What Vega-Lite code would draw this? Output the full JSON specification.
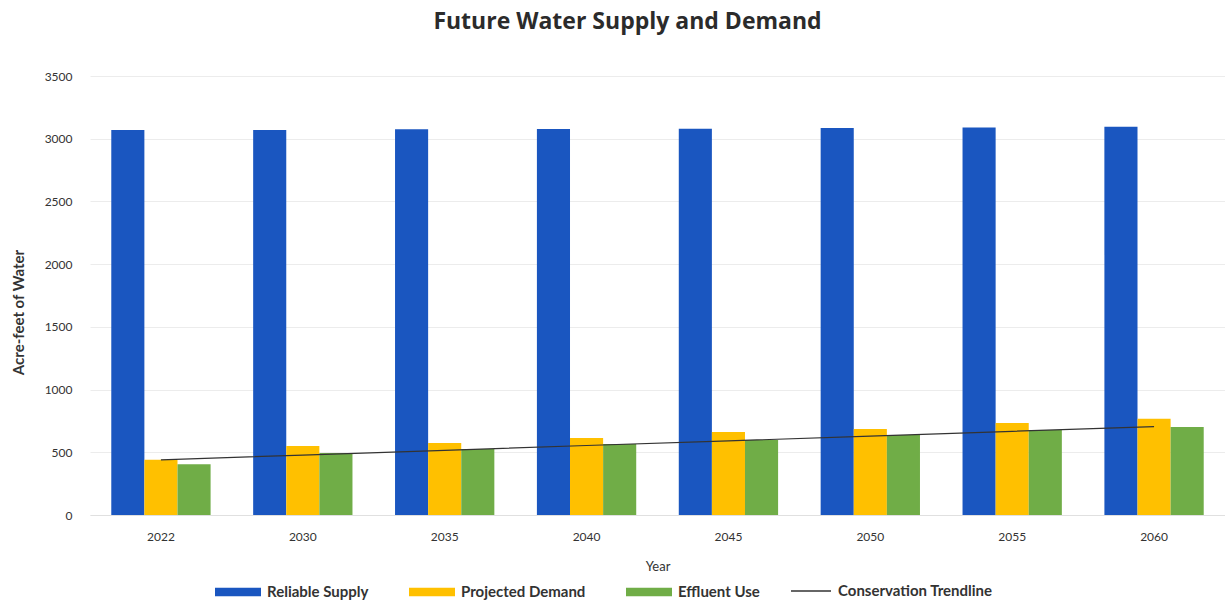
{
  "$schema": "https://vega.github.io/schema/vega-lite/v6.json",
  "width": 1135,
  "height": 439,
  "autosize": "none",
  "padding": {"left": 90, "top": 76, "right": 0, "bottom": 92},
  "background": "white",
  "title": {"text": "Future Water Supply and Demand", "fontSize": 23, "fontWeight": "bold", "font": "Open Sans", "color": "#2b2b2b", "offset": 36, "dx": -30},
  "config": {"view": {"stroke": null}, "font": "Lato"},
  "datasets": {
    "bars": [
      {"year": "2022", "series": "Reliable Supply", "value": 3070},
      {"year": "2022", "series": "Projected Demand", "value": 440},
      {"year": "2022", "series": "Effluent Use", "value": 405},
      {"year": "2030", "series": "Reliable Supply", "value": 3070},
      {"year": "2030", "series": "Projected Demand", "value": 550},
      {"year": "2030", "series": "Effluent Use", "value": 495},
      {"year": "2035", "series": "Reliable Supply", "value": 3075},
      {"year": "2035", "series": "Projected Demand", "value": 575},
      {"year": "2035", "series": "Effluent Use", "value": 526},
      {"year": "2040", "series": "Reliable Supply", "value": 3078},
      {"year": "2040", "series": "Projected Demand", "value": 614},
      {"year": "2040", "series": "Effluent Use", "value": 566},
      {"year": "2045", "series": "Reliable Supply", "value": 3080},
      {"year": "2045", "series": "Projected Demand", "value": 662},
      {"year": "2045", "series": "Effluent Use", "value": 598},
      {"year": "2050", "series": "Reliable Supply", "value": 3085},
      {"year": "2050", "series": "Projected Demand", "value": 686},
      {"year": "2050", "series": "Effluent Use", "value": 638},
      {"year": "2055", "series": "Reliable Supply", "value": 3090},
      {"year": "2055", "series": "Projected Demand", "value": 734},
      {"year": "2055", "series": "Effluent Use", "value": 678},
      {"year": "2060", "series": "Reliable Supply", "value": 3095},
      {"year": "2060", "series": "Projected Demand", "value": 768},
      {"year": "2060", "series": "Effluent Use", "value": 702}
    ],
    "trend": [
      {"year": "2022", "series": "Conservation Trendline", "value": 440},
      {"year": "2030", "series": "Conservation Trendline", "value": 478},
      {"year": "2035", "series": "Conservation Trendline", "value": 516},
      {"year": "2040", "series": "Conservation Trendline", "value": 554},
      {"year": "2045", "series": "Conservation Trendline", "value": 591},
      {"year": "2050", "series": "Conservation Trendline", "value": 629},
      {"year": "2055", "series": "Conservation Trendline", "value": 667},
      {"year": "2060", "series": "Conservation Trendline", "value": 705}
    ]
  },
  "layer": [
    {
      "data": {"name": "bars"},
      "mark": {"type": "bar"},
      "encoding": {
        "x": {
          "field": "year", "type": "nominal", "sort": null,
          "scale": {"paddingInner": 0.3, "paddingOuter": 0.15},
          "axis": {"title": "Year", "labelAngle": 0, "labelFontSize": 12, "labelColor": "#333", "labelPadding": 16, "ticks": false, "domain": true, "domainColor": "#e0e0e0", "titleFontSize": 13, "titleFontWeight": "normal", "titleColor": "#333", "titlePadding": 18}
        },
        "xOffset": {"field": "series", "sort": ["Reliable Supply", "Projected Demand", "Effluent Use"], "scale": {"paddingInner": 0}},
        "y": {
          "field": "value", "type": "quantitative",
          "scale": {"domain": [0, 3500]},
          "axis": {"title": "Acre-feet of Water", "format": "d", "values": [0, 500, 1000, 1500, 2000, 2500, 3000, 3500], "labelFontSize": 12, "labelColor": "#333", "labelPadding": 18, "ticks": false, "domain": false, "grid": true, "gridColor": "#ececec", "titleFontSize": 15, "titleFontWeight": "bold", "titleColor": "#333", "titlePadding": 18, "titleY": 236}
        },
        "color": {
          "field": "series", "type": "nominal",
          "scale": {"domain": ["Reliable Supply", "Projected Demand", "Effluent Use"], "range": ["#1a56c0", "#ffc000", "#70ad47"]},
          "legend": {
            "title": null, "orient": "none", "direction": "horizontal", "legendX": 125, "legendY": 493,
            "labelFontSize": 15, "labelFontWeight": "bold", "labelColor": "#333", "columnPadding": 40, "symbolSize": 2116, "labelOffset": 6,
            "symbolType": "M-1,-0.18H1V0.18H-1Z", "symbolStrokeWidth": 0
          }
        }
      }
    },
    {
      "data": {"name": "trend"},
      "mark": {"type": "line", "strokeWidth": 1.2},
      "encoding": {
        "x": {"field": "year", "type": "nominal", "sort": null},
        "y": {"field": "value", "type": "quantitative"},
        "stroke": {
          "field": "series", "type": "nominal",
          "scale": {"domain": ["Conservation Trendline"], "range": ["#333333"]},
          "legend": {
            "title": null, "orient": "none", "direction": "horizontal", "legendX": 700, "legendY": 494,
            "labelFontSize": 15, "labelFontWeight": "bold", "labelColor": "#333", "symbolSize": 1600, "labelOffset": 6,
            "symbolType": "stroke", "symbolStrokeWidth": 1.5, "symbolStrokeColor": "#333333"
          }
        }
      }
    }
  ]
}
